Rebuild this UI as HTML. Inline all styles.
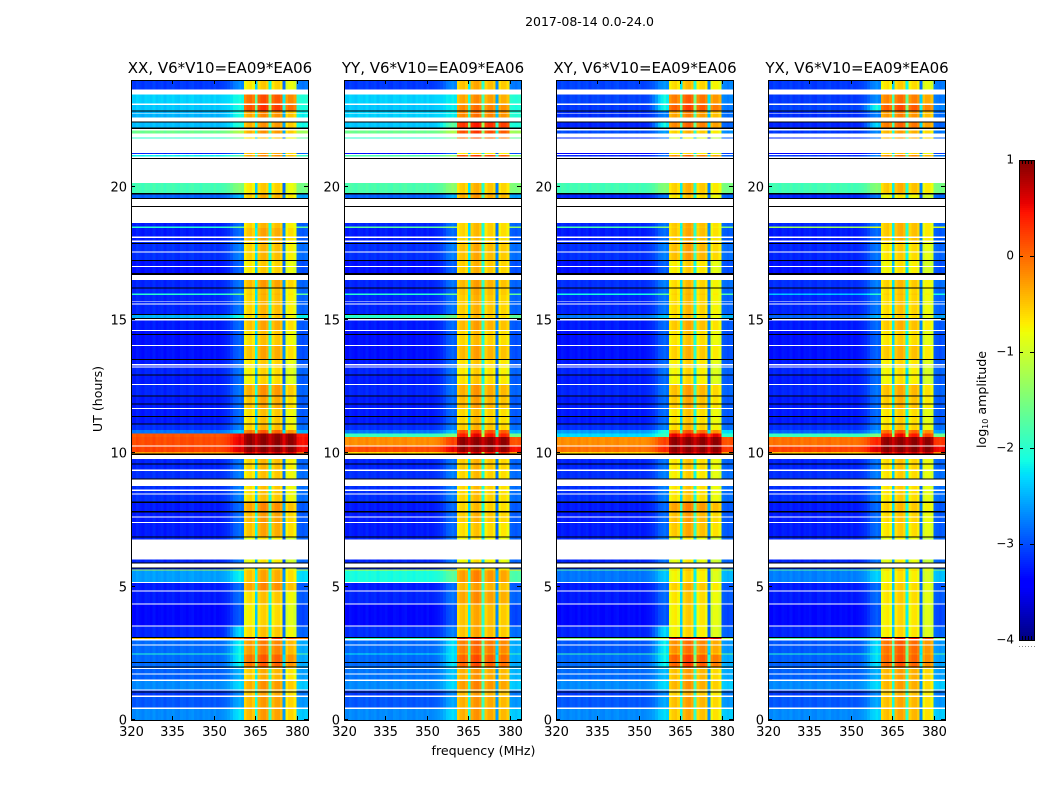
<!DOCTYPE html>
<html lang="en">
<head>
<meta charset="utf-8">
<title>2017-08-14 0.0-24.0 amplitude spectra</title>
<style>
html,body{margin:0;padding:0;background:#fff;width:1050px;height:800px;overflow:hidden}
svg{display:block}
text{font-family:"DejaVu Sans","Liberation Sans",sans-serif;fill:#000}
</style>
</head>
<body>
<svg id="figure" xmlns="http://www.w3.org/2000/svg" width="1050" height="800" viewBox="0 0 1050 800">
  <rect x="0" y="0" width="1050" height="800" fill="#fff"/>
  <text x="589.5" y="26" font-size="12.5" text-anchor="middle">2017-08-14 0.0-24.0</text>
  <text x="483.5" y="755" font-size="12.6" text-anchor="middle">frequency (MHz)</text>
  <text transform="translate(102,399) rotate(-90)" font-size="12.6" text-anchor="middle">UT (hours)</text>
  <text transform="translate(986,399.5) rotate(-90)" font-size="12.6" text-anchor="middle">log<tspan font-size="8" dy="2">10</tspan><tspan dy="-2"> amplitude</tspan></text>
  <g id="panels"></g>
  <g id="colorbar"></g>
</svg>
<script>
// ---- Chart data, estimated by eye from the reference (log10 amplitude) ----
const panelTitles = ["XX, V6*V10=EA09*EA06", "YY, V6*V10=EA09*EA06", "XY, V6*V10=EA09*EA06", "YX, V6*V10=EA09*EA06"];
const xTickLabels = [320, 335, 350, 365, 380];
const yTickLabels = [0, 5, 10, 15, 20];
const colorbarTickLabels = [1, 0, -1, -2, -3, -4];

// Hour boundaries of the time segments, top of plot to bottom (59 segments).
const rowEdges = [24,23.45,23.09,22.83,22.45,22.10,21.85,21.27,21.18,20.13,19.73,18.64,18.50,18.45,17.93,17.25,16.76,16.22,16.0,15.93,15.22,15.07,14.6,14.06,13.53,13.21,12.96,12.6,12.13,11.7,11.12,10.87,10.75,10.62,10.29,10.05,9.94,9.34,8.77,8.19,7.83,7.39,6.85,5.91,5.65,5.61,5.17,4.85,4.34,3.55,3.11,3.03,2.5,2.46,2.0,1.5,1.11,.86,.46,0];

// Level below the 361-380 MHz band, per segment.
const lowXX = [-3.1,-2.35,-2.4,-2.5,-2.45,-1.6,-2,-3.2,-2.2,-1.85,-2.9,-3.25,-2,-3.25,-3.15,-3.3,-3.2,-3.2,-2,-3.2,-2.5,-3.25,-3.3,-3.3,-3.25,-3.2,-3.25,-3.2,-3.25,-3.25,-3.15,-2.8,.1,.15,.2,-.3,-3.2,-3.15,-3.15,-3.25,-3.25,-3.25,-3.2,-3.2,-1.2,-2.6,-3.25,-3.25,-3.35,-3.2,-.5,-2.85,-2,-2.85,-2.9,-2.7,-3.1,-2.95,-2.7];
const lowYY = [-3.1,-2.35,-2.4,-2.35,-2.4,-1.6,-2,-3.3,-1.8,-1.8,-2.9,-3.2,-1.7,-3.25,-3.15,-3.3,-3.2,-3.25,-2,-3.2,-2,-3.25,-3.3,-3.3,-3.25,-3.2,-3.25,-3.2,-3.25,-3.25,-3.15,-2.8,-1.9,-.2,.15,-.6,-3.2,-3.15,-3.15,-3.25,-3.25,-3.25,-3.2,-3.2,-1,-2.1,-3.25,-3.2,-3.35,-3.15,-2,-2.85,-2.2,-2.85,-2.8,-2.7,-3.1,-2.95,-2.7];
const lowXY = [-3.05,-3.05,-3.1,-3.15,-3.2,-3,-3.2,-3.4,-3.2,-1.85,-3.2,-3.2,-1.8,-3.25,-3.15,-3.3,-3.15,-3.2,-2.1,-3.2,-2.8,-3.25,-3.3,-3.3,-3.25,-3.2,-3.25,-3.2,-3.25,-3.25,-3.15,-2.6,-2.3,-.2,-.05,-.6,-3.2,-3.15,-3.15,-3.25,-3.25,-3.25,-3.2,-3.2,-1.7,-2.8,-3.25,-3.25,-3.35,-3.2,-1.5,-2.95,-1.9,-2.85,-2.85,-2.7,-3.1,-2.95,-2.7];
const lowYX = [-3.1,-3.1,-3.05,-3.15,-3.2,-3.1,-3.2,-3.4,-3.1,-1.85,-3.2,-3.2,-1.3,-3.25,-3.2,-3.3,-3.15,-3.2,-2.4,-3.2,-2.9,-3.25,-3.3,-3.3,-3.25,-3.2,-3.25,-3.2,-3.25,-3.25,-3.15,-2.9,-1.9,-.05,.2,-.5,-3.2,-3.15,-3.15,-3.25,-3.25,-3.25,-3.2,-3.2,-1.7,-2.75,-3.25,-3.25,-3.35,-3.2,-1.8,-2.95,-2,-2.9,-2.9,-2.7,-3.1,-2.95,-2.7];

// Level inside the 361-380 MHz band, per segment.
const highXX = [-.55,.1,.25,-.2,-.25,-.25,-.5,-.3,-.2,-.55,-.4,-.45,-.45,-.35,-.45,-.55,-.3,-.45,-.4,-.45,-.5,-.35,-.5,-.35,-.55,-.6,-.6,-.25,-.35,-.5,-.45,.05,.9,.92,.95,.6,-.45,-.5,-.5,-.2,-.3,-.35,-.7,-.7,-.4,-.35,-.2,-.5,-.6,-.5,.4,-.15,-.2,.05,-.4,-.25,-.35,-.3,-.3];
const highYY = [-.4,-.25,-.1,-.1,.35,.2,.05,-.6,.2,-.45,-.3,-.5,-.5,-.5,-.4,-.45,-.35,-.4,-.4,-.45,-.5,-.35,-.5,-.35,-.55,-.6,-.55,-.3,-.35,-.5,-.45,.2,.5,.92,.92,.5,-.45,-.5,-.5,-.5,-.45,-.55,-.7,-.7,-.4,-.2,-.35,-.25,-.4,-.4,.6,-.05,-.3,.1,-.3,-.2,-.35,-.3,-.3];
const highXY = [-.45,.05,.2,-.15,0,-.4,-.8,-.6,0,-.4,-.5,-.35,-.4,-.35,-.3,-.55,-.45,-.45,-.4,-.45,-.5,-.35,-.5,-.4,-.55,-.6,-.6,-.3,-.35,-.5,-.45,.1,.55,.92,.92,.7,-.5,-.55,-.5,-.15,-.3,-.35,-.7,-.7,-.4,-.6,-.4,-.5,-.55,-.6,.6,-.05,-.3,.2,-.3,-.25,-.4,-.3,-.35];
const highYX = [-.55,-.05,.15,-.15,0,-.3,-.3,-.5,-.1,-.4,-.7,-.4,-.4,-.4,-.55,-.65,-.45,-.5,-.45,-.5,-.55,-.4,-.55,-.4,-.6,-.65,-.65,-.35,-.4,-.55,-.5,.1,.5,.92,.95,.6,-.5,-.55,-.55,-.45,-.5,-.55,-.75,-.75,-.45,-.65,-.55,-.55,-.6,-.6,.5,.05,-.1,.1,-.3,-.3,-.4,-.35,-.35];

// Offset of each of the four sub-bands (361-365, 365-370, 370-375, 375-380 MHz).
const subbandXX = [-.15,.02,-.04,-.3];
const subbandYY = [-.1,.05,-.08,-.15];
const subbandXY = [-.18,0,-.15,-.32];
const subbandYX = [-.13,0,-.1,-.32];

// Relative level of each of the 64 channels, and depth of the three sub-band notches.
const channelShape = [.02,-.03,.04,0,-.04,.03,.01,-.02,.05,-.03,0,.03,-.05,.02,0,.04,-.02,-.04,.03,.01,-.03,.02,.05,-.02,0,-.04,.03,0,.02,-.03,.04,-.02,0,.03,.02,0,.02,.05,0,.03,0,-.12,0,.05,-.08,0,-.1,.02,.05,-.06,0,-.1,.03,.05,-.08,0,-.1,.03,.03,-.1,.05,.02,-.02,.04];
const notchChannels = [45, 50, 55];
const notchDepth = [1.8, 1.6, 2.3];
const edgeWeight = [.1, .25, .4, .6, .8, .9, .8]; // channels 34-40

// Brighter rise next to the band: segments [start hour, end hour, level].
const glowXX = [[23.45,22.83,-2.1],[3.5,3.11,-2.2],[3.03,2,-2.1],[.46,0,-2.2]];
const glowYY = [[23.45,22.45,-2.2],[22.45,22.1,-1.6],[3.03,2,-2.2]];
const glowXY = [[23.45,22.83,-2],[22.45,22.1,-2],[10.87,10.75,-2],[3.5,3.11,-2.2],[3.03,2,-2.1]];
const glowYX = [[23.2,22.83,-2],[22.45,22.1,-2.2],[3.03,2,-2.2]];

// Time ranges with no data (white) and flagged lines (black), in hours.
const whiteGaps = [[23.64,23.45],[23.11,23.07],[22.77,22.74],[22.59,22.45],[22.17,22.10],[21.99,21.85],[21.80,21.27],[21.22,21.18],[21.13,21.08],[21.05,20.13],[19.53,19.28],[19.24,18.64],[18.13,18.07],[17.98,17.93],[17.57,17.53],[17.03,16.99],[16.68,16.50],[15.70,15.67],[15.61,15.58],[15.03,14.98],[14.63,14.59],[14.06,14.02],[13.35,13.30],[13.25,13.21],[12.60,12.56],[11.70,11.66],[10.29,10.25],[9.94,9.78],[9.39,9.34],[9.02,8.77],[8.64,8.59],[8.49,8.46],[7.64,7.60],[7.43,7.39],[6.77,6.02],[5.88,5.72],[5.17,5.14],[4.85,4.81],[4.37,4.34],[3.55,3.51],[3.03,2.99],[2.83,2.79],[1.95,1.91],[1.75,1.71],[1.52,1.47],[1.15,1.11],[.92,.86],[.46,.42]];
const flagLines = [[22.85,22.81],[22.45,22.41],[22.21,22.17],[21.08,21.05],[19.76,19.71],[19.57,19.53],[19.28,19.24],[17.89,17.85],[17.25,17.22],[16.76,16.68],[16.22,16.19],[15.22,15.18],[15.07,15.03],[14.47,14.44],[13.53,13.50],[12.96,12.93],[12.16,12.13],[11.87,11.85],[11.40,11.37],[11.12,11.09],[10.0,9.94],[9.62,9.59],[9.05,9.02],[8.19,8.13],[7.83,7.79],[6.89,6.85],[5.91,5.88],[5.72,5.68],[3.11,3.07],[2.17,2.15],[2.01,1.98],[1.07,1.03]];

// ---- Layout and scales ----
const NS = "http://www.w3.org/2000/svg";
const axesLeft = [131, 344, 556, 768];
const axesWidth = 177, axesTop = 80, axesBottom = 720;
const CHANNEL_COUNT = 64, FREQ_MIN = 320, FREQ_MAX = 384, HOUR_MAX = 24;
const lows = [lowXX, lowYY, lowXY, lowYX];
const highs = [highXX, highYY, highXY, highYX];
const subbands = [subbandXX, subbandYY, subbandXY, subbandYX];
const glows = [glowXX, glowYY, glowXY, glowYX];

function xScale(panel, freq) { return axesLeft[panel] + (freq - FREQ_MIN) / (FREQ_MAX - FREQ_MIN) * axesWidth; }
function yScale(hour) { return axesBottom - hour / HOUR_MAX * (axesBottom - axesTop); }

function ramp(stops, t) {
  for (let i = 1; i < stops.length; i++) {
    if (t <= stops[i][0]) {
      const a = stops[i - 1], b = stops[i];
      return a[1] + (b[1] - a[1]) * (t - a[0]) / (b[0] - a[0]);
    }
  }
  return stops[stops.length - 1][1];
}
const jetRed = [[0,0],[.35,0],[.66,1],[.89,1],[1,.5]];
const jetGreen = [[0,0],[.125,0],[.375,1],[.64,1],[.91,0],[1,0]];
const jetBlue = [[0,.5],[.11,1],[.34,1],[.65,0],[1,0]];
function colorOf(level) {
  const t = Math.max(0, Math.min(1, (level + 4) / 5));
  const c = [jetRed, jetGreen, jetBlue].map(s => Math.round(ramp(s, t) * 255));
  return "rgb(" + c.join(",") + ")";
}

function glowLevel(panel, row) {
  const mid = (rowEdges[row] + rowEdges[row + 1]) / 2;
  const match = glows[panel].find(g => mid <= g[0] && mid >= g[1]);
  const base = lows[panel][row];
  return match ? Math.max(match[2], base) : base + .45;
}

function cellLevel(panel, row, ch) {
  const low = lows[panel][row], high = highs[panel][row];
  if (ch < 34) return low + channelShape[ch];
  if (ch <= 40) return low + (glowLevel(panel, row) - low) * edgeWeight[ch - 34] + channelShape[ch];
  if (ch >= 60) return low + .3 + channelShape[ch];
  const notch = notchChannels.indexOf(ch);
  if (notch >= 0) return high - notchDepth[notch] * (high > .5 ? .15 : 1);
  const sub = ch < 45 ? 0 : ch < 50 ? 1 : ch < 55 ? 2 : 3;
  return high + (high > .5 ? 0 : subbands[panel][sub]) + channelShape[ch];
}

function make(tag, attrs, parent) {
  const el = document.createElementNS(NS, tag);
  for (const k in attrs) el.setAttribute(k, attrs[k]);
  parent.appendChild(el);
  return el;
}

// ---- Panels ----
const panelsRoot = document.getElementById("panels");
const defs = make("defs", {}, panelsRoot);

panelTitles.forEach((title, p) => {
  const left = axesLeft[p];
  const clip = make("clipPath", { id: "clip-" + p }, defs);
  make("rect", { x: left, y: axesTop, width: axesWidth, height: axesBottom - axesTop }, clip);

  const group = make("g", {}, panelsRoot);
  
  

  const heat = make("g", { "clip-path": "url(#clip-" + p + ")", "shape-rendering": "crispEdges" }, group);
  
  

  for (let r = 0; r < rowEdges.length - 1; r++) {
    const y0 = yScale(rowEdges[r]), y1 = yScale(rowEdges[r + 1]);
    for (let ch = 0; ch < CHANNEL_COUNT; ch++) {
      const x0 = xScale(p, FREQ_MIN + ch - .2), x1 = xScale(p, FREQ_MIN + ch + .8 + (ch === CHANNEL_COUNT - 1 ? .4 : 0));
      const cell = make("rect", { x: x0.toFixed(2), y: y0.toFixed(2), width: (x1 - x0 + .05).toFixed(2), height: (y1 - y0).toFixed(2), fill: colorOf(cellLevel(p, r, ch)) }, heat);
      
      
    }
  }
  whiteGaps.forEach(g => {
    const gap = make("rect", { x: left, y: yScale(g[0]).toFixed(2), width: axesWidth, height: (yScale(g[1]) - yScale(g[0])).toFixed(2), fill: "#fff" }, heat);
    
    
  });
  flagLines.forEach(g => {
    const line = make("rect", { x: left, y: yScale(g[0]).toFixed(2), width: axesWidth, height: Math.max(1, yScale(g[1]) - yScale(g[0])).toFixed(2), fill: "#000" }, heat);
    
    
  });

  const frame = make("rect", { x: left + .5, y: axesTop + .5, width: axesWidth, height: axesBottom - axesTop, fill: "none", stroke: "#000", "stroke-width": 1 }, group);
  
  

  const titleEl = make("text", { x: left + axesWidth / 2 + .5, y: 73, "font-size": 15, "text-anchor": "middle" }, group);
  titleEl.textContent = title;
  
  

  xTickLabels.forEach(v => {
    const x = Math.round(xScale(p, v)) + .5;
    [[axesBottom, axesBottom - 4], [axesTop, axesTop + 4]].forEach(t => {
      const tick = make("line", { x1: x, x2: x, y1: t[0], y2: t[1], stroke: "#000", "stroke-width": 1 }, group);
      
      
    });
    const label = make("text", { x: x, y: 736, "font-size": 13, "text-anchor": "middle" }, group);
    label.textContent = v;
    
    
  });
  yTickLabels.forEach(v => {
    const y = Math.round(yScale(v)) - .5;
    [[left, left + 4], [left + axesWidth, left + axesWidth - 4]].forEach(t => {
      const tick = make("line", { x1: t[0], x2: t[1], y1: y, y2: y, stroke: "#000", "stroke-width": 1 }, group);
      
      
    });
    const label = make("text", { x: left - 4, y: y + 5, "font-size": 13, "text-anchor": "end" }, group);
    label.textContent = v;
    
    
  });
});

// ---- Colorbar ----
const cbRoot = document.getElementById("colorbar");
const cbLeft = 1019, cbWidth = 15, cbTop = 160, cbBottom = 640;
const CB_MAX = 1, CB_MIN = -4, CB_STEPS = 240;
function cbScale(level) { return cbTop + (CB_MAX - level) / (CB_MAX - CB_MIN) * (cbBottom - cbTop); }

const cbRamp = make("g", { "shape-rendering": "crispEdges" }, cbRoot);


for (let i = 0; i < CB_STEPS; i++) {
  const hi = CB_MAX - i * (CB_MAX - CB_MIN) / CB_STEPS;
  const lo = CB_MAX - (i + 1) * (CB_MAX - CB_MIN) / CB_STEPS;
  const step = make("rect", { x: cbLeft, y: cbScale(hi).toFixed(2), width: cbWidth, height: (cbScale(lo) - cbScale(hi) + .1).toFixed(2), fill: colorOf((hi + lo) / 2) }, cbRamp);
  
  
}
const cbFrame = make("rect", { x: cbLeft + .5, y: cbTop + .5, width: cbWidth, height: cbBottom - cbTop, fill: "none", stroke: "#000", "stroke-width": 1 }, cbRoot);



colorbarTickLabels.forEach(v => {
  const y = Math.round(cbScale(v)) + .5;
  [[cbLeft, cbLeft + 4], [cbLeft + cbWidth, cbLeft + cbWidth - 4]].forEach(t => {
    const tick = make("line", { x1: t[0], x2: t[1], y1: y, y2: y, stroke: "#000", "stroke-width": 1 }, cbRoot);
    
    
  });
  const label = make("text", { x: cbLeft - 5, y: y + 3, "font-size": 12, "text-anchor": "end" }, cbRoot);
  label.textContent = v < 0 ? "\u2212" + Math.abs(v) : String(v);
  
  
});
for (let i = 0; i < 6; i++) {
  const x = cbLeft + i * 3 + .5;
  [[cbTop, cbTop + 4], [cbBottom, cbBottom - 4]].forEach(t => {
    const tick = make("line", { x1: x, x2: x, y1: t[0], y2: t[1], stroke: "#000", "stroke-width": 1 }, cbRoot);
    
    
  });
  const dot = make("rect", { x: x - .5, y: 646, width: 1, height: 1, fill: "#888" }, cbRoot);
  
  
}
</script>
</body>
</html>
